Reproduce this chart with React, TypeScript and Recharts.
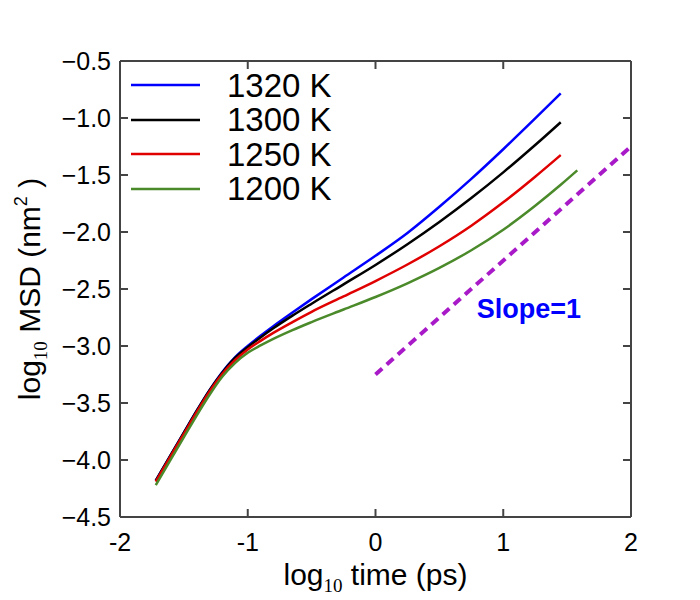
import { LineChart, Line, XAxis, YAxis, Legend, ReferenceDot } from 'recharts';

// log10 time (ps)
const times = [-1.72, -1.6, -1.5, -1.4, -1.3, -1.2, -1.1, -1.0, -0.9, -0.8, -0.65, -0.5, -0.25, 0, 0.25, 0.5, 0.75, 1.0, 1.25, 1.45];
const timesGreen = [...times, 1.58];

// log10 MSD (nm^2)
const msd1320 = [-4.18, -3.95, -3.76, -3.57, -3.39, -3.23, -3.1, -3.0, -2.91, -2.826, -2.706, -2.589, -2.399, -2.209, -2.009, -1.779, -1.534, -1.274, -1.004, -0.784];
const msd1300 = [-4.18, -3.95, -3.76, -3.57, -3.39, -3.235, -3.105, -3.01, -2.925, -2.845, -2.734, -2.629, -2.459, -2.289, -2.107, -1.912, -1.702, -1.477, -1.237, -1.037];
const msd1250 = [-4.19, -3.96, -3.77, -3.58, -3.4, -3.245, -3.125, -3.03, -2.955, -2.885, -2.79, -2.7, -2.565, -2.43, -2.285, -2.125, -1.945, -1.74, -1.515, -1.325];
const msd1200 = [-4.22, -3.99, -3.8, -3.61, -3.43, -3.27, -3.15, -3.06, -2.995, -2.937, -2.86, -2.79, -2.68, -2.57, -2.45, -2.315, -2.16, -1.98, -1.77, -1.586, -1.459];

// reference line with slope 1
const slopeTimes = [0, 2];
const slopeMsd = [-3.25, -1.25];

const xTicks = [-2, -1, 0, 1, 2];
const yTicks = [-4.5, -4.0, -3.5, -3.0, -2.5, -2.0, -1.5, -1.0, -0.5];

const FONT = '"Liberation Sans", Arial, sans-serif';
const SERIF = '"Liberation Serif", serif';
const AXIS = '#444';

const series = [
  { name: '1320 K', color: '#0000ff', t: times, v: msd1320 },
  { name: '1300 K', color: '#000000', t: times, v: msd1300 },
  { name: '1250 K', color: '#e00000', t: times, v: msd1250 },
  { name: '1200 K', color: '#4b8a2a', t: timesGreen, v: msd1200 },
];

const rows = (t: number[], v: number[]) => t.map((x, i) => ({ t: x, v: v[i] }));

const fmtX = (v: number) => (v < 0 ? '-' + Math.abs(v) : String(v));
const fmtY = (v: number) => '\u2212' + Math.abs(v).toFixed(1);

const BottomTick = (p: any) => (
  <g>
    <line x1={p.x} y1={p.y} x2={p.x} y2={p.y - 8} stroke={AXIS} strokeWidth={2} />
    <text x={p.x} y={p.y + 34} textAnchor="middle" fontSize={25} fontFamily={FONT} fill="#000">
      {fmtX(p.payload.value)}
    </text>
  </g>
);

const LeftTick = (p: any) => (
  <g>
    <line x1={p.x} y1={p.y} x2={p.x + 8} y2={p.y} stroke={AXIS} strokeWidth={2} />
    <text x={p.x - 9} y={p.y + 9} textAnchor="end" fontSize={25} fontFamily={FONT} fill="#000">
      {fmtY(p.payload.value)}
    </text>
  </g>
);

const TopTick = (p: any) => <line x1={p.x} y1={p.y} x2={p.x} y2={p.y + 8} stroke={AXIS} strokeWidth={2} />;
const RightTick = (p: any) => <line x1={p.x} y1={p.y} x2={p.x - 8} y2={p.y} stroke={AXIS} strokeWidth={2} />;

const XTitle = (p: any) => {
  const vb = p.viewBox;
  return (
    <text x={vb.x + vb.width / 2} y={vb.y + 68} textAnchor="middle" fontSize={30} fontFamily={FONT} fill="#000">
      log
      <tspan fontSize={19} dy={7} fontFamily={SERIF}>10</tspan>
      <tspan dy={-7}> time (ps)</tspan>
    </text>
  );
};

const YTitle = (p: any) => {
  const vb = p.viewBox;
  const cx = vb.x + vb.width - 80;
  const cy = vb.y + vb.height / 2;
  return (
    <text x={cx} y={cy} transform={`rotate(-90 ${cx} ${cy})`} textAnchor="middle" fontSize={30} fontFamily={FONT} fill="#000">
      log
      <tspan fontSize={19} dy={7} fontFamily={SERIF}>10</tspan>
      <tspan dy={-7}> MSD (nm</tspan>
      <tspan fontSize={18} dy={-13}>2</tspan>
      <tspan dy={13}> )</tspan>
    </text>
  );
};

const LegendBox = () => (
  <div style={{ fontFamily: FONT }}>
    {series.map((s) => (
      <div key={s.name} style={{ display: 'flex', alignItems: 'center', height: 34.5 }}>
        <svg width={69} height={4} style={{ marginRight: 27 }}>
          <line x1={0} y1={2} x2={69} y2={2} stroke={s.color} strokeWidth={2.5} />
        </svg>
        <span style={{ fontSize: 33, lineHeight: 1, color: '#000' }}>{s.name}</span>
      </div>
    ))}
  </div>
);

export default function App() {
  return (
    <LineChart width={692} height={592} margin={{ top: 52, right: 68, bottom: 82, left: 111 }}>
      <XAxis
        xAxisId="bottom"
        dataKey="t"
        type="number"
        domain={[-2, 2]}
        ticks={xTicks}
        height={1}
        tickSize={0}
        tickMargin={0}
        tickLine={false}
        axisLine={{ stroke: AXIS, strokeWidth: 2 }}
        tick={(p: any) => <BottomTick {...p} />}
        label={(p: any) => <XTitle {...p} />}
      />
      <XAxis
        xAxisId="top"
        orientation="top"
        dataKey="t"
        type="number"
        domain={[-2, 2]}
        ticks={xTicks}
        height={1}
        tickSize={0}
        tickMargin={0}
        tickLine={false}
        axisLine={{ stroke: AXIS, strokeWidth: 2 }}
        tick={(p: any) => <TopTick {...p} />}
      />
      <YAxis
        yAxisId="left"
        type="number"
        domain={[-4.5, -0.5]}
        ticks={yTicks}
        width={1}
        tickSize={0}
        tickMargin={0}
        tickLine={false}
        axisLine={{ stroke: AXIS, strokeWidth: 2 }}
        tick={(p: any) => <LeftTick {...p} />}
        label={(p: any) => <YTitle {...p} />}
      />
      <YAxis
        yAxisId="right"
        orientation="right"
        type="number"
        domain={[-4.5, -0.5]}
        ticks={yTicks}
        width={1}
        tickSize={0}
        tickMargin={0}
        tickLine={false}
        axisLine={{ stroke: AXIS, strokeWidth: 2 }}
        tick={(p: any) => <RightTick {...p} />}
      />
      {series.map((s) => (
        <Line
          key={s.name}
          xAxisId="bottom"
          yAxisId="left"
          data={rows(s.t, s.v)}
          dataKey="v"
          name={s.name}
          type="monotone"
          stroke={s.color}
          strokeWidth={2.5}
          dot={false}
          isAnimationActive={false}
        />
      ))}
      <Line
        xAxisId="top"
        yAxisId="right"
        data={rows(slopeTimes, slopeMsd)}
        dataKey="v"
        name="slope"
        type="linear"
        stroke="#a81ac8"
        strokeWidth={4}
        strokeDasharray="9 6"
        dot={false}
        legendType="none"
        isAnimationActive={false}
      />
      <ReferenceDot
        xAxisId="bottom"
        yAxisId="left"
        x={1.2}
        y={-2.67}
        r={0}
        label={{ value: 'Slope=1', position: 'center', fill: '#0000ff', fontSize: 27, fontWeight: 700, fontFamily: FONT }}
      />
      <Legend
        layout="vertical"
        align="center"
        verticalAlign="middle"
        wrapperStyle={{ left: 123, top: 60, width: 'auto' }}
        content={() => <LegendBox />}
      />
    </LineChart>
  );
}
